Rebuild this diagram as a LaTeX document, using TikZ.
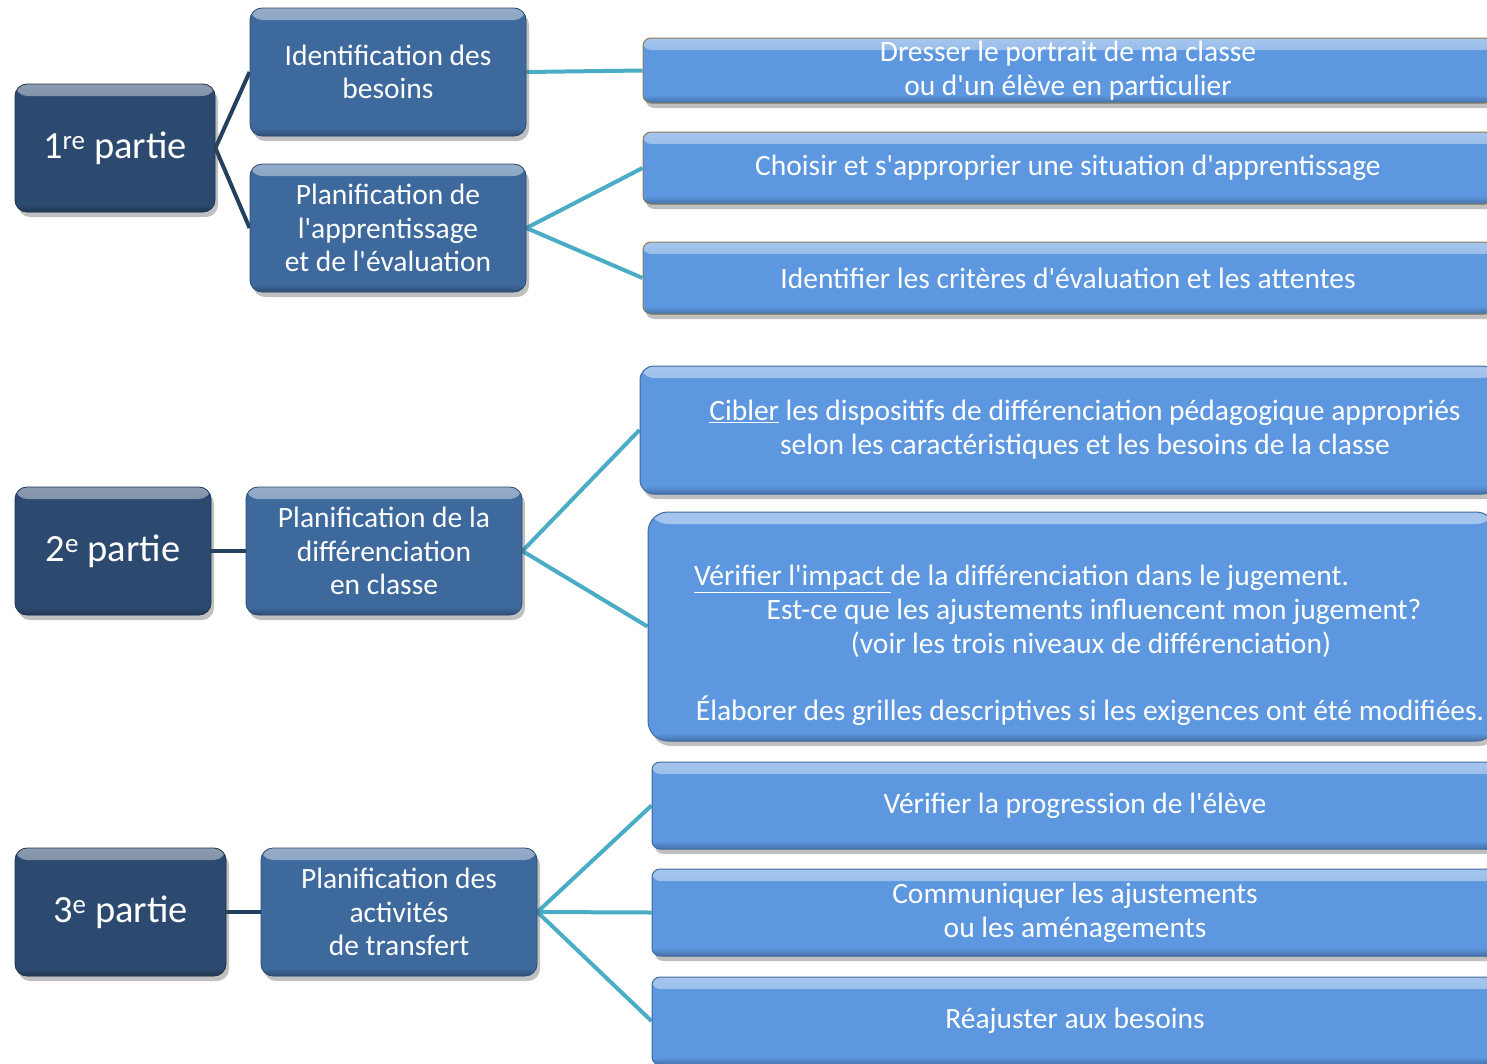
\documentclass[tikz,border=0pt]{standalone}
\usepackage{fontspec}
\setmainfont{Carlito}
\newfontfamily\boxfont{Carlito}
\usetikzlibrary{shadows,backgrounds}
\definecolor{navy}{HTML}{2C4A6F}
\definecolor{midblue}{HTML}{3E699D}
\definecolor{lightblue}{HTML}{5C97DF}
\definecolor{tealline}{HTML}{4BACC6}
\definecolor{navyline}{HTML}{24405F}
\definecolor{olive}{HTML}{8C7E57}
\tikzset{
  gloss/.style={path picture={
    \shade[top color=#1!55!white, bottom color=#1]
      (path picture bounding box.north west) rectangle ([yshift=-12pt]path picture bounding box.north east);
    \shade[top color=#1, bottom color=#1!75!black]
      ([yshift=8pt]path picture bounding box.south west) rectangle (path picture bounding box.south east);
  }},
  shadowed/.style={drop shadow={shadow xshift=3pt, shadow yshift=-5pt, opacity=0.35, fill=black!70}},
  partbox/.style={rectangle, rounded corners=12pt, fill=navy, draw=navy!70!black, line width=0.8pt,
    minimum height=128pt, inner sep=0pt, text=white, shadowed, gloss=navy,
    font=\boxfont\fontsize{38.5}{44}\selectfont},
  midbox/.style={rectangle, rounded corners=12pt, fill=midblue, draw=midblue!70!black, line width=0.8pt,
    minimum width=276pt, minimum height=128pt, inner sep=0pt, text=white, align=center, shadowed, gloss=midblue,
    font=\boxfont\fontsize{29.5}{33.5}\selectfont},
  rightbox/.style={rectangle, rounded corners=8pt, fill=lightblue, draw=lightblue!70!black, line width=1pt,
    inner sep=0pt, text=white, align=center, shadowed, gloss=lightblue,
    font=\boxfont\fontsize{29.5}{34}\selectfont},
  rtext/.style={text=white, inner sep=0pt, font=\boxfont\fontsize{29.5}{34}\selectfont},
  navyconn/.style={draw=navyline, line width=4pt},
  tealconn/.style={draw=tealline, line width=4pt},
}
\begin{document}
\begin{tikzpicture}[x=1pt, y=-1pt]
\useasboundingbox (0,0) rectangle (1487,1063);
% part 1
\node[partbox, minimum width=200pt] (p1) at (115,148) {1\textsuperscript{re} partie};
\node[midbox] (ident) at (388,72) {Identification des\\besoins};
\node[midbox] (plan1) at (388,228) {Planification de\\l'apprentissage\\et de l'évaluation};
\node[rightbox, draw=olive, minimum width=850pt, minimum height=65pt] (r1) at (1068,70.5) {Dresser le portrait de ma classe\\ou d'un élève en particulier};
\node[rightbox, draw=olive, minimum width=850pt, minimum height=72pt] (r2) at (1068,168) {Choisir et s'approprier une situation d'apprentissage};
\node[rightbox, draw=olive, minimum width=850pt, minimum height=72pt] (r3) at (1068,278) {Identifier les critères d'évaluation et les attentes};
% part 2
\node[partbox, minimum width=196pt] (p2) at (113,551) {2\textsuperscript{e} partie};
\node[midbox] (plan2) at (384,551) {Planification de la\\différenciation\\en classe};
\node[rightbox, rounded corners=14pt, minimum width=856pt, minimum height=128pt] (r4) at (1068,430)
  {\hspace*{34pt}\underline{Cibler} les dispositifs de différenciation pédagogique appropriés\\\hspace*{34pt}selon les caractéristiques et les besoins de la classe};
\node[rightbox, rounded corners=20pt, minimum width=848pt, minimum height=229pt] (r5) at (1072,626.5) {};
\node[rtext, anchor=west] (r5a) at (694,579) {\underline{Vérifier l'impact\ }de la différenciation dans le jugement.};
\node[rtext] (r5b) at (1094,612) {Est-ce que les ajustements influencent mon jugement?};
\node[rtext] (r5c) at (1091,645) {(voir les trois niveaux de différenciation)};
\node[rtext] (r5d) at (1090,711) {Élaborer des grilles descriptives si les exigences ont été modifiées.};
% part 3
\node[partbox, minimum width=211pt] (p3) at (120.5,912) {3\textsuperscript{e} partie};
\node[midbox] (plan3) at (399,912) {Planification des\\activités\\de transfert};
\node[rightbox, minimum width=846pt, minimum height=87pt] (r6) at (1075,805.5) {Vérifier la progression de l'élève};
\node[rightbox, minimum width=846pt, minimum height=87pt] (r7) at (1075,912.5) {Communiquer les ajustements\\ou les aménagements};
\node[rightbox, minimum width=846pt, minimum height=88pt] (r8) at (1075,1021) {Réajuster aux besoins};
\begin{scope}[on background layer]
  \fill[white] (-5,-5) rectangle (1495,1070);
  \draw[navyconn] (p1.east) -- (ident.west);
  \draw[navyconn] (p1.east) -- (plan1.west);
  \draw[tealconn] (ident.east) -- (r1.west);
  \draw[tealconn] (plan1.east) -- (r2.west);
  \draw[tealconn] (plan1.east) -- (r3.west);
  \draw[navyconn] (p2.east) -- (plan2.west);
  \draw[tealconn] (plan2.east) -- (r4.west);
  \draw[tealconn] (plan2.east) -- (r5.west);
  \draw[navyconn] (p3.east) -- (plan3.west);
  \draw[tealconn] (plan3.east) -- (r6.west);
  \draw[tealconn] (plan3.east) -- (r7.west);
  \draw[tealconn] (plan3.east) -- (r8.west);
\end{scope}
\end{tikzpicture}
\end{document}
